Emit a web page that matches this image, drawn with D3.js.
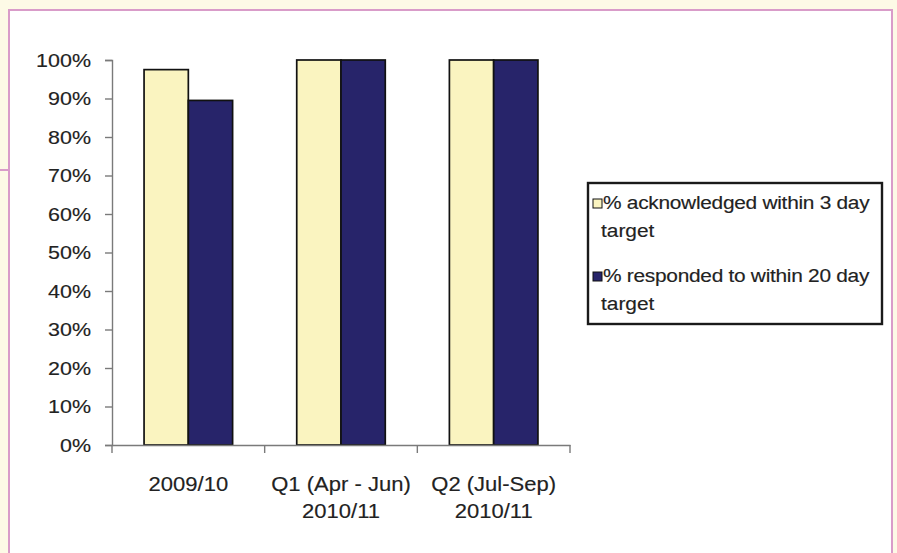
<!DOCTYPE html>
<html>
<head>
<meta charset="utf-8">
<script src="https://cdn.jsdelivr.net/npm/d3@7"></script>
<style>
  html, body { margin: 0; padding: 0; background: #fdfae6; }
  svg { display: block; }
  text { font-family: "Liberation Sans", Arial, sans-serif; fill: #222; stroke: #222; stroke-width: 0.15px; }
</style>
</head>
<body>
<svg id="chart" width="897" height="553"></svg>
<script>
// Complaint handling performance against targets
const categories = [["2009/10"], ["Q1 (Apr - Jun)", "2010/11"], ["Q2 (Jul-Sep)", "2010/11"]];
const seriesNames = ["% acknowledged within 3 day target", "% responded to within 20 day target"];
const legendLines = [["% acknowledged within 3 day", "target"], ["% responded to within 20 day", "target"]];
const acknowledged = [97.5, 100, 100];
const responded = [89.5, 100, 100];
const yTicks = [0, 10, 20, 30, 40, 50, 60, 70, 80, 90, 100];
const colors = ["#faf4c0", "#27246a"];

const svg = d3.select("#chart");
const W = 897, H = 553;
const stretch = 1.13;

// page panel with pink frame
svg.append("rect").attr("x", 0).attr("y", 0).attr("width", W).attr("height", H).attr("fill", "#fdfae6");
svg.append("rect").attr("x", 9).attr("y", 10).attr("width", 883).attr("height", H).attr("fill", "#ffffff");
const frame = svg.append("g").attr("stroke", "#d99cc9").attr("stroke-width", 2).attr("fill", "none");
frame.append("path").attr("d", `M9,${H} V10 H892 V${H}`);
frame.append("path").attr("d", "M0,170 H9");

function stretchedText(parent, x, y, str, size, anchor) {
  return parent.append("text")
    .attr("transform", `translate(${x},${y}) scale(${stretch},1)`)
    .attr("text-anchor", anchor)
    .attr("font-size", size)
    .text(str);
}

const x0 = 112, x1 = 570, yTop = 60, yBottom = 445;
const x = d3.scaleBand().domain(d3.range(categories.length)).range([x0, x1]).padding(0);
const inset = x.bandwidth() * 0.21;
const xs = d3.scaleBand().domain([0, 1]).range([inset, x.bandwidth() - inset]).padding(0);
const y = d3.scaleLinear().domain([0, 100]).range([yBottom, yTop]);

// bars
const data = categories.map((c, i) => [acknowledged[i], responded[i]]);
const groups = svg.append("g").selectAll("g").data(data).join("g")
  .attr("transform", (d, i) => `translate(${x(i)},0)`);
groups.selectAll("rect").data(d => d.map((v, s) => ({ v, s }))).join("rect")
  .attr("x", d => xs(d.s))
  .attr("y", d => y(d.v))
  .attr("width", xs.bandwidth())
  .attr("height", d => y(0) - y(d.v))
  .attr("fill", d => colors[d.s])
  .attr("stroke", "#111")
  .attr("stroke-width", 1.7);

// y axis
const yAxis = svg.append("g").attr("transform", `translate(${x0},0)`)
  .call(d3.axisLeft(y).tickValues(yTicks).tickSize(7).tickFormat(""));
yAxis.select(".domain").attr("stroke", "#7a7a7a").attr("stroke-width", 1.4);
yAxis.selectAll(".tick line").attr("stroke", "#7a7a7a").attr("stroke-width", 1.4);
yTicks.forEach(t => stretchedText(svg, 91, y(t) + 6.8, t + "%", 19, "end"));

// x axis
const xAxis = svg.append("g").attr("transform", `translate(0,${yBottom})`)
  .call(d3.axisBottom(x).tickSize(0).tickFormat(""));
xAxis.select(".domain").attr("stroke", "#7a7a7a").attr("stroke-width", 1.4);
xAxis.selectAll(".tick").remove();
const bounds = x.domain().map(i => x(i)).concat([x1]);
svg.append("g").selectAll("line").data(bounds).join("line")
  .attr("x1", d => d).attr("x2", d => d)
  .attr("y1", yBottom).attr("y2", yBottom + 8)
  .attr("stroke", "#7a7a7a").attr("stroke-width", 1.4);

categories.forEach((lines, i) => {
  const cx = x(i) + x.bandwidth() / 2;
  lines.forEach((ln, j) => stretchedText(svg, cx, 491 + j * 27, ln, 19.5, "middle"));
});

// legend
const lg = svg.append("g");
lg.append("rect").attr("x", 588).attr("y", 183).attr("width", 294).attr("height", 141)
  .attr("fill", "#fff").attr("stroke", "#1a1a1a").attr("stroke-width", 2.4);
const itemY = [209, 282];
legendLines.forEach((lines, i) => {
  lg.append("rect").attr("x", 593).attr("y", itemY[i] - 10).attr("width", 9).attr("height", 9)
    .attr("fill", colors[i]).attr("stroke", "#111").attr("stroke-width", 1);
  lines.forEach((ln, j) => stretchedText(lg, j === 0 ? 603 : 601, itemY[i] + j * 28, ln, 18.5, "start")
    .attr("letter-spacing", j === 0 ? -0.25 : 0));
});
</script>
</body>
</html>
